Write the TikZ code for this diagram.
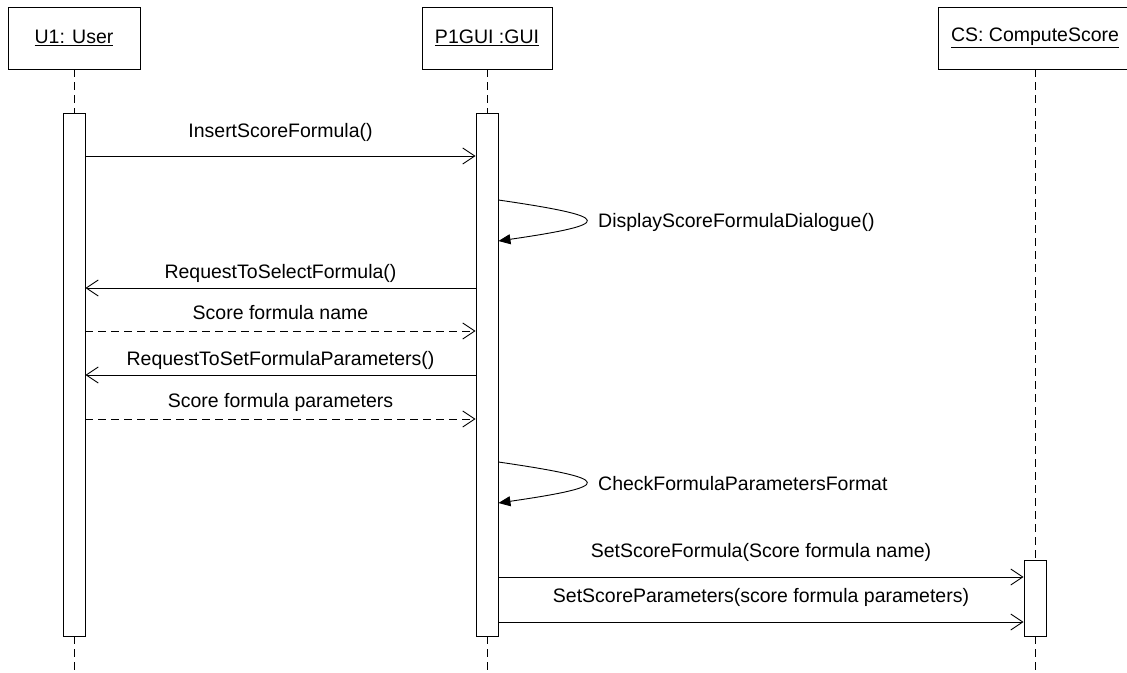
\documentclass[tikz,border=0pt]{standalone}
\usepackage{fontspec}
\setmainfont{Liberation Sans}
\usetikzlibrary{arrows.meta}
\begin{document}
\begin{tikzpicture}[x=1pt,y=-1pt,
  txt/.style={font=\fontsize{19.5}{22}\selectfont},
  lbl/.style={txt, inner sep=0pt, anchor=base},
  objbox/.style={draw, line width=0.9pt, minimum height=62pt, inner sep=0pt, txt},
  actbar/.style={draw, fill=white, line width=0.9pt, minimum width=22pt, inner sep=0pt},
  lifeline/.style={line width=0.9pt, dash pattern=on 8pt off 5pt},
  msg/.style={line width=0.9pt, -{Straight Barb[length=12pt,width=16pt]}},
  reply/.style={msg, dash pattern=on 8pt off 5pt},
  selfmsg/.style={line width=0.9pt, -{Triangle[length=12pt,width=10pt]}}
]
\useasboundingbox (0,0) rectangle (1127,672);
\clip (0,0) rectangle (1127,672);

% object heads
\node[objbox, minimum width=132pt] (u1)  at (74,38)   {\underline{U1: User}};
\node[objbox, minimum width=130pt] (gui) at (487,38)  {\underline{P1GUI :GUI}};
\node[objbox, minimum width=194pt] (cs)  at (1035,38) {\underline{CS: ComputeScore}};

% activation bars
\node[actbar, minimum height=523pt] (u1act)  at (74,374.5)  {};
\node[actbar, minimum height=523pt] (guiact) at (487,374.5) {};
\node[actbar, minimum height=76pt]  (csact)  at (1035,598)  {};

% lifeline ends
\coordinate (u1end)  at (74,672);
\coordinate (guiend) at (487,672);
\coordinate (csend)  at (1035,672);

\draw[lifeline] (u1.south) -- (u1act.north);
\draw[lifeline] (u1act.south) -- (u1end);
\draw[lifeline] (gui.south) -- (guiact.north);
\draw[lifeline] (guiact.south) -- (guiend);
\draw[lifeline] (cs.south) -- (csact.north);
\draw[lifeline] (csact.south) -- (csend);

% messages between user and GUI
\node[lbl] (m1) at (280.5,137) {InsertScoreFormula()};
\draw[msg] (u1act.east |- 0,156) -- (guiact.west |- 0,156);

\draw[selfmsg] (guiact.east |- 0,200) .. controls (615,217) and (615,224) .. (guiact.east |- 0,241);
\node[lbl, anchor=base west] (m2) at (598,227) {DisplayScoreFormulaDialogue()};

\node[lbl] (m3) at (280.5,278) {RequestToSelectFormula()};
\draw[msg] (guiact.west |- 0,288) -- (u1act.east |- 0,288);

\node[lbl] (m4) at (280.5,319) {Score formula name};
\draw[reply] (u1act.east |- 0,331) -- (guiact.west |- 0,331);

\node[lbl] (m5) at (280.5,365) {RequestToSetFormulaParameters()};
\draw[msg] (guiact.west |- 0,375) -- (u1act.east |- 0,375);

\node[lbl] (m6) at (280.5,407) {Score formula parameters};
\draw[reply] (u1act.east |- 0,419) -- (guiact.west |- 0,419);

\draw[selfmsg] (guiact.east |- 0,462) .. controls (615,479) and (615,486) .. (guiact.east |- 0,503);
\node[lbl, anchor=base west] (m7) at (598,490) {CheckFormulaParametersFormat};

% messages from GUI to ComputeScore
\node[lbl] (m8) at (761,557) {SetScoreFormula(Score formula name)};
\draw[msg] (guiact.east |- 0,577) -- (csact.west |- 0,577);

\node[lbl] (m9) at (761,602) {SetScoreParameters(score formula parameters)};
\draw[msg] (guiact.east |- 0,622) -- (csact.west |- 0,622);
\end{tikzpicture}
\end{document}
